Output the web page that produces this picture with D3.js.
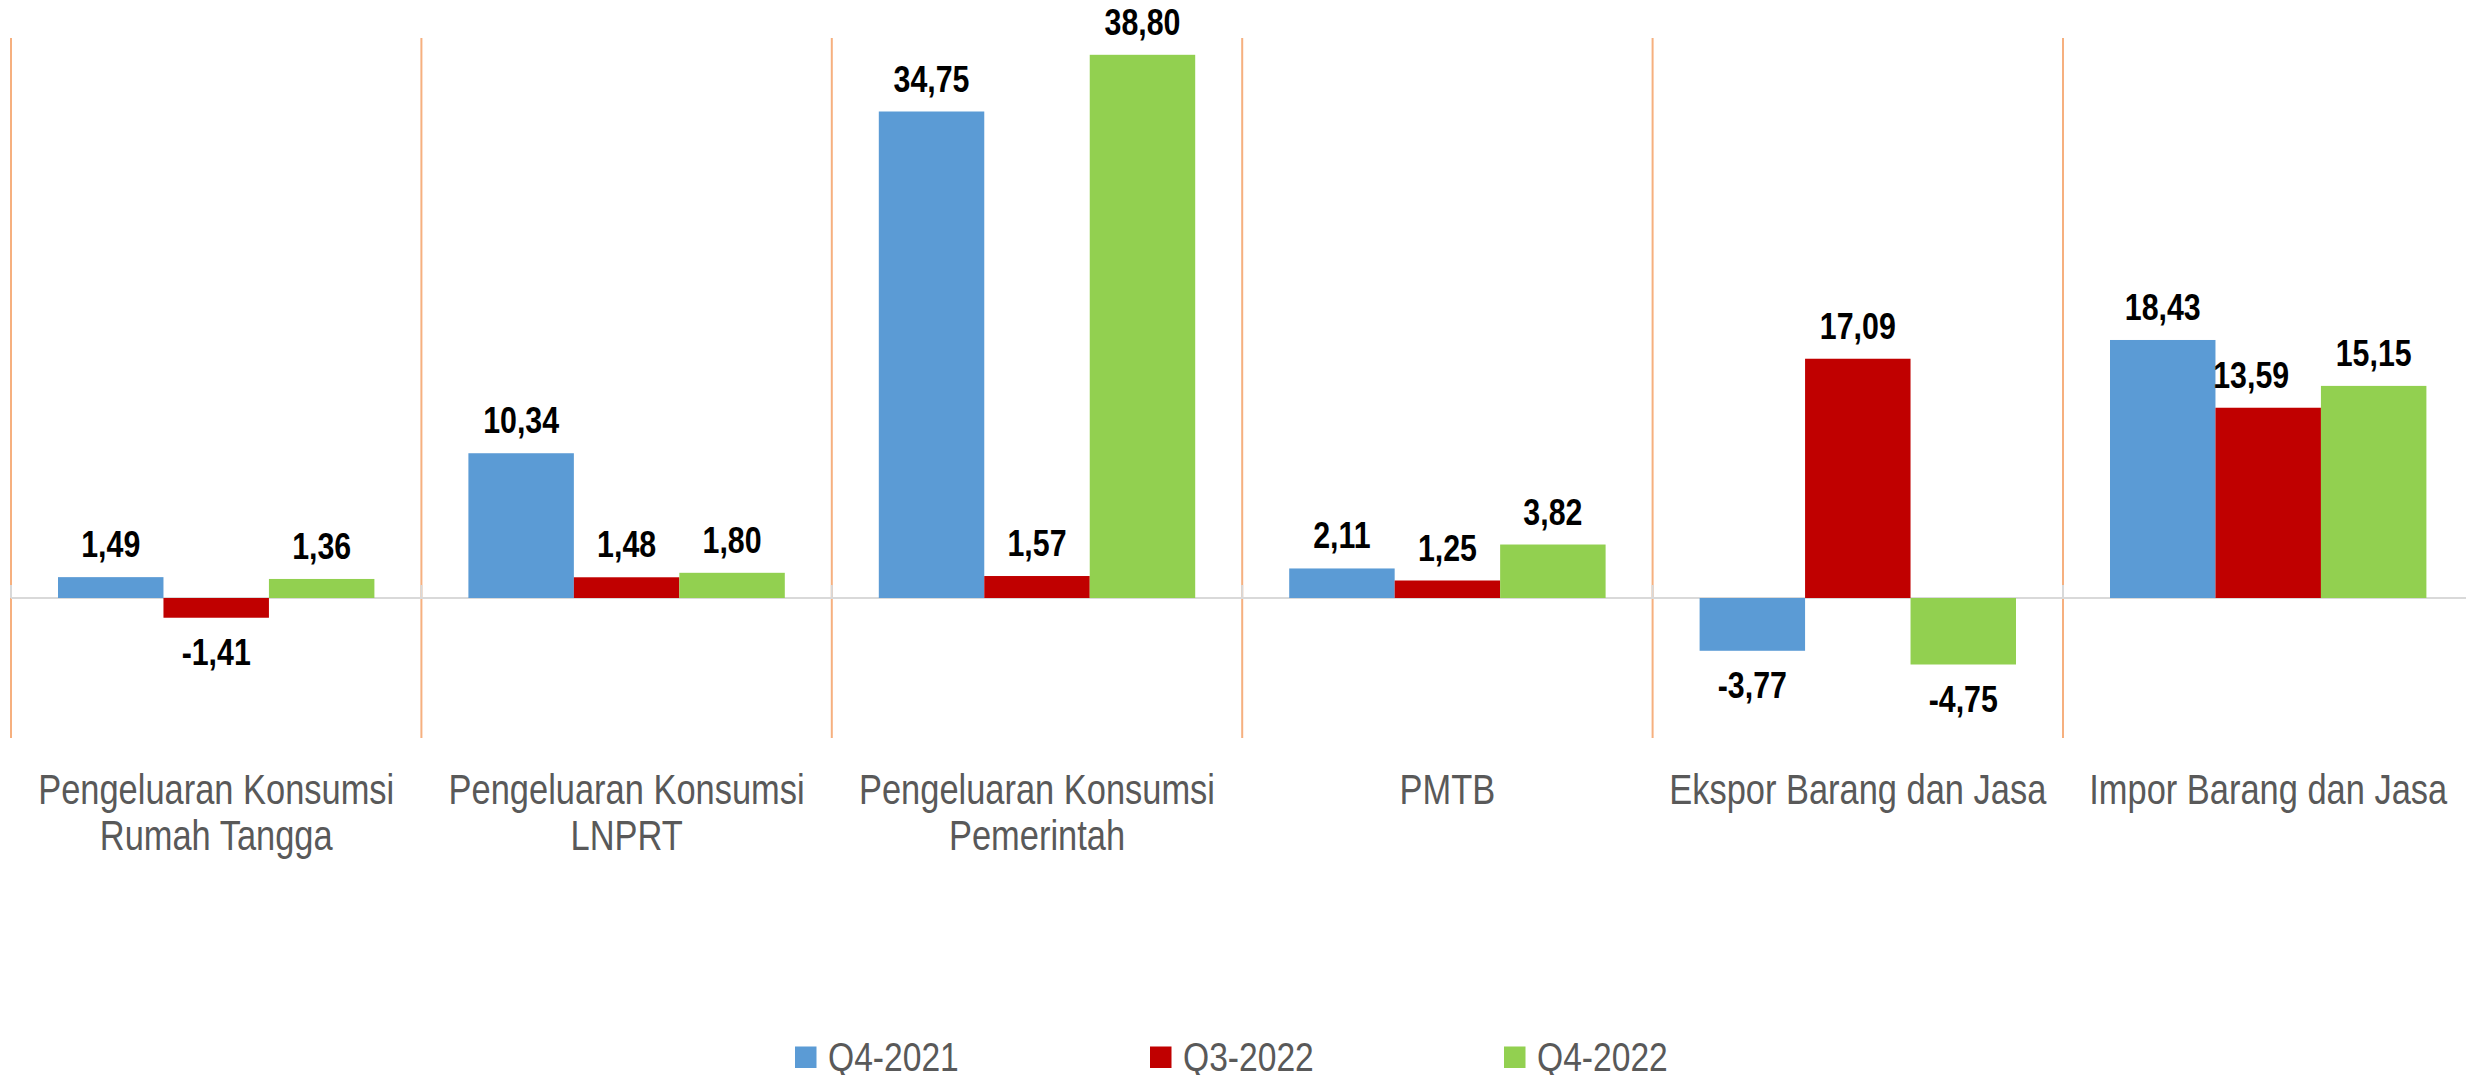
<!DOCTYPE html>
<html>
<head>
<meta charset="utf-8">
<script src="https://cdn.jsdelivr.net/npm/d3@7"></script>
<style>
  html, body { margin: 0; padding: 0; background: #ffffff; }
  svg { display: block; }
</style>
</head>
<body>
<svg id="chart" width="2466" height="1075"></svg>
<script>
// ---- data ----
const categories = [
  "Pengeluaran Konsumsi\nRumah Tangga",
  "Pengeluaran Konsumsi\nLNPRT",
  "Pengeluaran Konsumsi\nPemerintah",
  "PMTB",
  "Ekspor Barang dan Jasa",
  "Impor Barang dan Jasa"
];
const seriesNames = ["Q4-2021", "Q3-2022", "Q4-2022"];
const q4_2021 = [1.49, 10.34, 34.75, 2.11, -3.77, 18.43];
const q3_2022 = [-1.41, 1.48, 1.57, 1.25, 17.09, 13.59];
const q4_2022 = [1.36, 1.80, 38.80, 3.82, -4.75, 15.15];
const seriesValues = [q4_2021, q3_2022, q4_2022];
const yDomain = [-10, 40];

// ---- styles / layout ----
const colors = ["#5B9BD5", "#C00000", "#92D050"];
const font = "'Liberation Sans', Arial, sans-serif";
const squeeze = 0.82; // horizontal condensing (narrow face look)
const labelNudge = { "5|1": -17 }; // manual nudge of one data label (category idx|series idx)

const svg = d3.select("#chart");
const plotLeft = 11, groupW = 410.4;
const x0 = d3.scaleBand()
  .domain(categories)
  .range([plotLeft, plotLeft + groupW * categories.length])
  .paddingInner(0).paddingOuter(0);
const x1 = d3.scaleBand()
  .domain(seriesNames)
  .range([47, groupW - 47])
  .padding(0);
const y = d3.scaleLinear().domain(yDomain).range([738, 38]);

const loc = d3.formatLocale({ decimal: ",", thousands: ".", grouping: [3], currency: ["", ""], minus: "-" });
const fmt = loc.format(".2f");

function narrowText(g, x, yy) {
  return g.append("g").attr("transform", `translate(${x},${yy}) scale(${squeeze},1)`)
    .append("text").attr("x", 0).attr("y", 0);
}

// separators (category boundaries)
const bounds = d3.range(categories.length + 1).map(i => plotLeft + i * groupW);
svg.append("g").selectAll("line").data(bounds).join("line")
  .attr("x1", d => d).attr("x2", d => d)
  .attr("y1", y(yDomain[1])).attr("y2", y(yDomain[0]))
  .attr("stroke", "#F6B07F").attr("stroke-width", 2);

// zero line
svg.append("line")
  .attr("x1", plotLeft).attr("x2", 2466)
  .attr("y1", y(0)).attr("y2", y(0))
  .attr("stroke", "#D9D9D9").attr("stroke-width", 2);

// tick marks at boundaries
svg.append("g").selectAll("line").data(bounds).join("line")
  .attr("x1", d => d).attr("x2", d => d)
  .attr("y1", y(0) - 13).attr("y2", y(0))
  .attr("stroke", "#D9D9D9").attr("stroke-width", 2);

// bars
const flat = [];
categories.forEach((c, ci) => {
  seriesNames.forEach((s, si) => {
    flat.push({ c, ci, s, si, v: seriesValues[si][ci] });
  });
});

svg.append("g").selectAll("rect").data(flat).join("rect")
  .attr("x", d => x0(d.c) + x1(d.s))
  .attr("width", x1.bandwidth())
  .attr("y", d => y(Math.max(0, d.v)))
  .attr("height", d => Math.abs(y(d.v) - y(0)))
  .attr("fill", d => colors[d.si]);

// data labels
const lblG = svg.append("g");
flat.forEach(d => {
  const lx = x0(d.c) + x1(d.s) + x1.bandwidth() / 2 + (labelNudge[d.ci + "|" + d.si] || 0);
  const ly = d.v >= 0 ? y(d.v) - 20 : y(d.v) + 47;
  narrowText(lblG, lx, ly)
    .attr("text-anchor", "middle")
    .attr("font-family", font)
    .attr("font-weight", "bold")
    .attr("font-size", 37)
    .attr("fill", "#000000")
    .text(fmt(d.v));
});

// category labels
const catG = svg.append("g");
categories.forEach(c => {
  const lines = c.split("\n");
  const cx = x0(c) + groupW / 2;
  const t = narrowText(catG, cx, 804)
    .attr("text-anchor", "middle")
    .attr("font-family", font)
    .attr("font-size", 42)
    .attr("fill", "#595959");
  lines.forEach((ln, i) => {
    t.append("tspan").attr("x", 0).attr("dy", i === 0 ? 0 : 46.5).text(ln);
  });
});

// legend
const legendX = [795, 1150, 1504];
const lg = svg.append("g");
seriesNames.forEach((s, i) => {
  lg.append("rect")
    .attr("x", legendX[i]).attr("y", 1046.5)
    .attr("width", 21.5).attr("height", 21.5)
    .attr("fill", colors[i]);
  narrowText(lg, legendX[i] + 33, 1070.5)
    .attr("font-family", font)
    .attr("font-size", 41)
    .attr("fill", "#595959")
    .text(s);
});
</script>
</body>
</html>
